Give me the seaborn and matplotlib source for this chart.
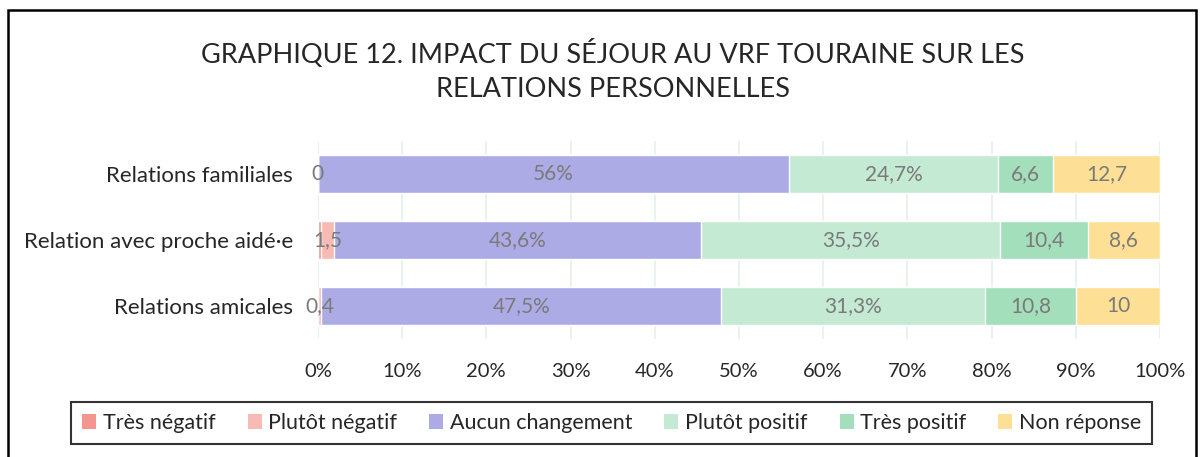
import matplotlib
matplotlib.use("Agg")
import matplotlib.pyplot as plt
import seaborn as sns
import numpy as np
import pandas as pd
from matplotlib.patches import Rectangle, Patch

# data
categories = ["Relations familiales", "Relation avec proche aidé·e", "Relations amicales"]
series = ["Très négatif", "Plutôt négatif", "Aucun changement", "Plutôt positif", "Très positif", "Non réponse"]
tres_negatif = [0, 0.4, 0]
plutot_negatif = [0, 1.5, 0.4]
aucun = [56, 43.6, 47.5]
plutot_positif = [24.7, 35.5, 31.3]
tres_positif = [6.6, 10.4, 10.8]
non_reponse = [12.7, 8.6, 10]
labels = [
    ["", "0", "56%", "24,7%", "6,6", "12,7"],
    ["", "1,5", "43,6%", "35,5%", "10,4", "8,6"],
    ["", "0,4", "47,5%", "31,3%", "10,8", "10"],
]
colors = ["#f4968e", "#f7bab4", "#adabe5", "#c4ead3", "#a4dfbb", "#fde095"]

sns.set_style("white")
plt.rcParams["font.family"] = ["Lato", "DejaVu Sans"]

values = np.array([tres_negatif, plutot_negatif, aucun, plutot_positif, tres_positif, non_reponse])
cum = values.cumsum(axis=0)

fig = plt.figure(figsize=(12.04, 4.57), dpi=100)
ax = fig.add_axes([0.264, 0.2582, 0.6995, 0.4333])

# stacked bars: draw cumulative totals from the largest down
for i in range(len(series) - 1, -1, -1):
    df = pd.DataFrame({"cat": categories, "val": cum[i]})
    sns.barplot(data=df, x="val", y="cat", color=colors[i], width=0.58,
                saturation=1, ax=ax, zorder=2)

for r in range(len(categories)):
    for i in range(len(series)):
        txt = labels[r][i]
        if not txt:
            continue
        left = cum[i][r] - values[i][r]
        xc = left + values[i][r] / 2
        ax.text(xc, r, txt, ha="center", va="center", fontsize=15, color="#7a7a7a", zorder=5)

ax.set_xlim(0, 100)
ax.set_ylim(2.5, -0.5)
ax.set_xticks(np.arange(0, 101, 10))
ax.set_xticklabels([f"{t}%" for t in range(0, 101, 10)], fontsize=14.5)
ax.tick_params(axis="y", labelsize=16, length=0, pad=18)
ax.tick_params(axis="x", length=0, pad=17)
ax.set_xlabel("")
ax.set_ylabel("")
for s in ax.spines.values():
    s.set_visible(False)
ax.grid(axis="x", color="#e3f1e8", linewidth=1.2, zorder=0)
ax.set_axisbelow(True)

fig.text(0.509, 0.845, "GRAPHIQUE 12. IMPACT DU SÉJOUR AU VRF TOURAINE SUR LES\nRELATIONS PERSONNELLES",
         ha="center", va="center", fontsize=19.5, linespacing=1.45)

handles = [Patch(facecolor=c, edgecolor="none") for c in colors]
leg = fig.legend(handles, series, loc="center", bbox_to_anchor=(0.508, 0.074), ncol=6,
                 fontsize=15.5, frameon=True, fancybox=False, edgecolor="black",
                 handlelength=0.65, handleheight=0.65, handletextpad=0.3, columnspacing=1.5,
                 borderpad=0.5)
leg.get_frame().set_linewidth(1.5)

fig.patches.append(Rectangle((0.0065, -0.05), 0.987, 1.028, transform=fig.transFigure,
                             fill=False, edgecolor="black", linewidth=1.8))

fig.savefig("out.png", dpi=100)
